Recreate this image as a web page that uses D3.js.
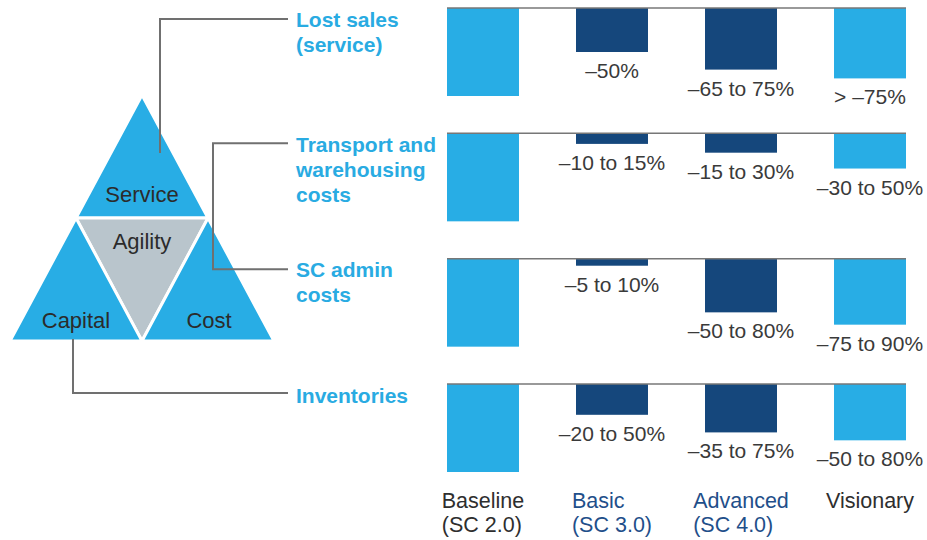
<!DOCTYPE html>
<html>
<head>
<meta charset="utf-8">
<script src="https://cdn.jsdelivr.net/npm/d3@7"></script>
<style>
  body { margin: 0; background: #fff; }
  svg { display: block; font-family: "Liberation Sans", Arial, Helvetica, sans-serif; }
</style>
</head>
<body>
<svg id="chart"></svg>
<script>
// categories (columns) and their two-line captions
const stages = ["Baseline", "Basic", "Advanced", "Visionary"];
const stageCaptions = [["Baseline", "(SC 2.0)"], ["Basic", "(SC 3.0)"], ["Advanced", "(SC 4.0)"], ["Visionary"]];

// rows (levers)
const levers = ["Lost sales", "Transport", "SC admin", "Inventories"];
const leverLabels = [
    ["Lost sales", "(service)"],
    ["Transport and", "warehousing", "costs"],
    ["SC admin", "costs"],
    ["Inventories"]
];

// bar depth as % of baseline
const lostSales   = [100, 50, 70, 80];
const transport   = [100, 12, 22, 40];
const scAdmin     = [100, 8, 61, 75];
const inventories = [100, 35, 55, 64];
const seriesValues = [lostSales, transport, scAdmin, inventories];

// value labels under the bars
const lostSalesText   = ["", "–50%", "–65 to 75%", "> –75%"];
const transportText   = ["", "–10 to 15%", "–15 to 30%", "–30 to 50%"];
const scAdminText     = ["", "–5 to 10%", "–50 to 80%", "–75 to 90%"];
const inventoriesText = ["", "–20 to 50%", "–35 to 75%", "–50 to 80%"];
const seriesText = [lostSalesText, transportText, scAdminText, inventoriesText];

// triangle pieces
const triangleParts = ["Service", "Agility", "Capital", "Cost"];

const width = 927, height = 540;
const svg = d3.select("#chart").attr("width", width).attr("height", height);

const lightBlue = "#28ade5";
const navy = "#15477c";
const barColor = { Baseline: lightBlue, Basic: navy, Advanced: navy, Visionary: lightBlue };
const captionColor = { Baseline: "#2e2e2e", Basic: "#1f4f8a", Advanced: "#1f4f8a", Visionary: "#2e2e2e" };

const x = d3.scaleBand().domain(stages).range([447, 906]).paddingInner(0.442).paddingOuter(0);
const rowY = d3.scalePoint().domain(levers).range([8, 384]);
const depth = d3.scaleLinear().domain([0, 100]).range([0, 88]);

// ---- bars ----
const rows = svg.selectAll(".row").data(levers).join("g")
    .attr("class", "row")
    .attr("transform", d => `translate(0,${rowY(d)})`);

rows.each(function (lever, i) {
    const g = d3.select(this);
    const cells = stages.map((s, j) => ({ stage: s, value: seriesValues[i][j], text: seriesText[i][j] }));

    g.selectAll("rect").data(cells).join("rect")
        .attr("x", d => x(d.stage))
        .attr("y", 0)
        .attr("width", x.bandwidth())
        .attr("height", d => depth(d.value))
        .attr("fill", d => barColor[d.stage]);

    g.append("line")
        .attr("x1", x.range()[0]).attr("x2", x.range()[1])
        .attr("y1", 0).attr("y2", 0)
        .attr("stroke", "#777").attr("stroke-width", 1.5);

    g.selectAll("text.val").data(cells.filter(d => d.text)).join("text")
        .attr("class", "val")
        .attr("x", d => x(d.stage) + x.bandwidth() / 2)
        .attr("y", d => depth(d.value) + 26)
        .attr("text-anchor", "middle")
        .attr("font-size", 21)
        .attr("fill", "#3a3a3a")
        .text(d => d.text);

    // row label
    const lbl = g.append("text")
        .attr("x", 296)
        .attr("font-size", 21)
        .attr("font-weight", "bold")
        .attr("fill", "#29abe2");
    lbl.selectAll("tspan").data(leverLabels[i]).join("tspan")
        .attr("x", 296)
        .attr("y", (d, k) => 18.5 + k * 25)
        .text(d => d);
});

// ---- column captions: left-aligned block centred under each bar ----
stages.forEach((s, j) => {
    const t = svg.append("text")
        .attr("font-size", 21.5)
        .attr("fill", captionColor[s]);
    const spans = t.selectAll("tspan").data(stageCaptions[j]).join("tspan")
        .attr("y", (d, k) => 508 + k * 24)
        .text(d => d);
    let maxW = 0;
    spans.each(function () { maxW = Math.max(maxW, this.getComputedTextLength()); });
    spans.attr("x", x(s) + x.bandwidth() / 2 - maxW / 2);
});

// ---- triangle diagram ----
const A = [142, 95], B = [10, 341], C = [274, 341];
const mid = (p, q) => [(p[0] + q[0]) / 2, (p[1] + q[1]) / 2];
const AB = mid(A, B), AC = mid(A, C), BC = mid(B, C);
const pieces = [
    { name: "Service", pts: [A, AB, AC], fill: lightBlue },
    { name: "Agility", pts: [AB, AC, BC], fill: "#b9c5cc" },
    { name: "Capital", pts: [AB, B, BC], fill: lightBlue },
    { name: "Cost",    pts: [AC, BC, C], fill: lightBlue }
];

const tri = svg.append("g");
tri.selectAll("path").data(pieces).join("path")
    .attr("d", d => d3.line()(d.pts) + "Z")
    .attr("fill", d => d.fill)
    .attr("stroke", "#fff")
    .attr("stroke-width", 3)
    .attr("stroke-linejoin", "miter");

const labelPos = { Service: [142, 202], Agility: [142, 249], Capital: [76, 328], Cost: [209, 328] };
tri.selectAll("text").data(triangleParts).join("text")
    .attr("x", d => labelPos[d][0])
    .attr("y", d => labelPos[d][1])
    .attr("text-anchor", "middle")
    .attr("font-size", 22)
    .attr("fill", "#2b2b2b")
    .text(d => d);

// ---- connectors from triangle to row labels ----
const lineEnd = 288;
const connectors = [
    [[160, 153], [160, rowY("Lost sales") + 11], [lineEnd, rowY("Lost sales") + 11]],
    [[lineEnd, rowY("Transport") + 10], [213, rowY("Transport") + 10], [213, rowY("SC admin") + 10.5], [lineEnd, rowY("SC admin") + 10.5]],
    [[73, 339], [73, rowY("Inventories") + 9], [lineEnd, rowY("Inventories") + 9]]
];
svg.append("g").selectAll("path").data(connectors).join("path")
    .attr("d", d => d3.line()(d))
    .attr("fill", "none")
    .attr("stroke", "#707070")
    .attr("stroke-width", 2);
</script>
</body>
</html>
